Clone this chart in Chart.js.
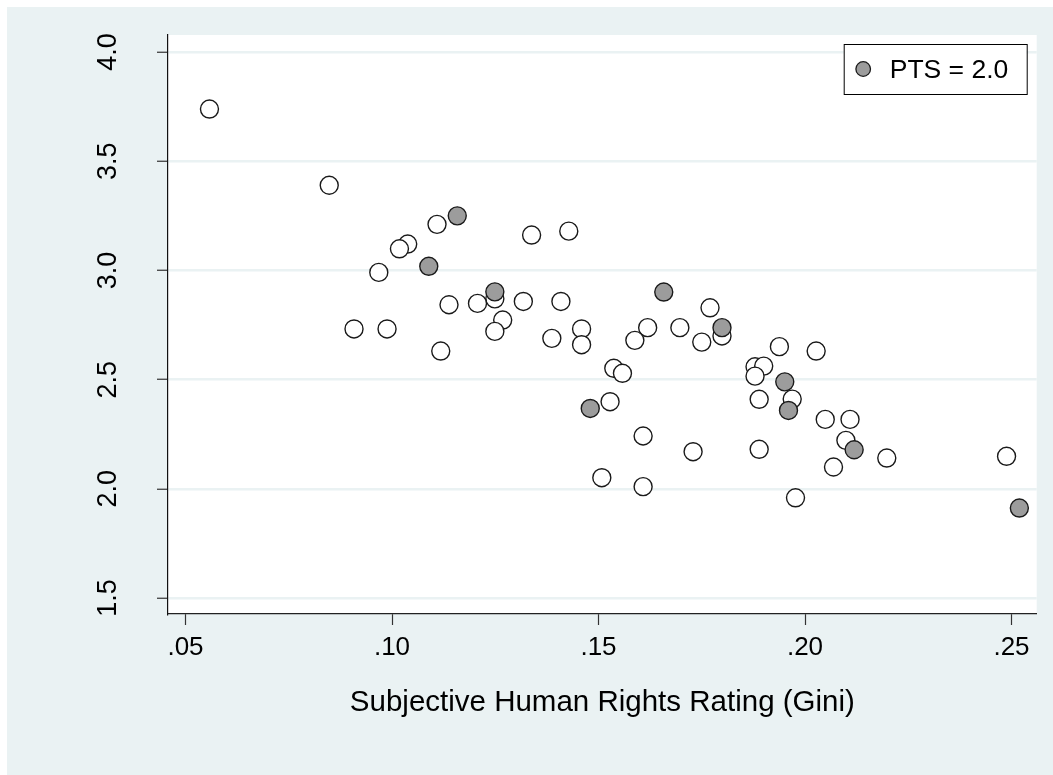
<!DOCTYPE html>
<html>
<head>
<meta charset="utf-8">
<script src="https://cdn.jsdelivr.net/npm/chart.js@4"></script>
<style>
  html, body { margin: 0; padding: 0; background: #ffffff; }
  #wrap { position: absolute; left: 7px; top: 7px; width: 1046px; height: 768px; }
</style>
</head>
<body>
<div id="wrap"><canvas id="chart" width="1046" height="768"></canvas></div>
<script>
// Gini rating (x) vs. outcome (y), PTS other than 2.0 (hollow markers)
const otherX = [0.0558, 0.0848, 0.1109, 0.1338, 0.1428, 0.1038, 0.1018, 0.0968, 0.1249, 0.1138,
                0.1207, 0.1318, 0.1409, 0.1268, 0.1249, 0.0908, 0.0988, 0.1387, 0.1459, 0.1459,
                0.1118, 0.1770, 0.1799, 0.1619, 0.1588, 0.1697, 0.1750, 0.1537, 0.1558, 0.1528,
                0.1608, 0.1729, 0.1508, 0.1608, 0.1938, 0.2027, 0.1879, 0.1900, 0.1879, 0.1969,
                0.1889, 0.2049, 0.2109, 0.2099, 0.1889, 0.2069, 0.2198, 0.1977, 0.2488];
const otherY = [3.739, 3.390, 3.211, 3.162, 3.180, 3.121, 3.099, 2.991, 2.870, 2.843,
                2.849, 2.858, 2.858, 2.773, 2.721, 2.732, 2.732, 2.689, 2.732, 2.660,
                2.631, 2.829, 2.700, 2.738, 2.680, 2.738, 2.672, 2.552, 2.529, 2.399,
                2.242, 2.170, 2.051, 2.010, 2.651, 2.631, 2.559, 2.562, 2.516, 2.411,
                2.410, 2.318, 2.318, 2.222, 2.181, 2.100, 2.141, 1.959, 2.149];

// PTS = 2.0 (grey markers)
const ptsX = [0.1158, 0.1089, 0.1249, 0.1658, 0.1799, 0.1480, 0.1951, 0.1960, 0.2119, 0.2519];
const ptsY = [3.250, 3.019, 2.902, 2.901, 2.738, 2.368, 2.490, 2.359, 2.179, 1.912];

const xTicks = [0.05, 0.10, 0.15, 0.20, 0.25];
const yTicks = [1.5, 2.0, 2.5, 3.0, 3.5, 4.0];

const xTitle = "Subjective Human Rights Rating (Gini)";
const legendLabel = "PTS = 2.0";

const BG = "#eaf2f3";
const FONT = "'Liberation Sans', Arial, sans-serif";

function toPoints(xs, ys) {
    return xs.map((x, i) => ({ x: x, y: ys[i] }));
}

// drop the extra room Chart.js keeps for overhanging tick labels
function noLabelPadding(scale) {
    scale.paddingTop = 0;
    scale.paddingBottom = 0;
    scale.paddingLeft = 0;
    scale.paddingRight = 0;
}

// paints the outer background and the white plot region
const backgroundPlugin = {
    id: "stataBackground",
    beforeDraw(chart) {
        const { ctx, chartArea } = chart;
        ctx.save();
        ctx.fillStyle = BG;
        ctx.fillRect(0, 0, chart.width, chart.height);
        ctx.fillStyle = "#ffffff";
        ctx.fillRect(chartArea.left, chartArea.top,
                     chartArea.right - chartArea.left, chartArea.bottom - chartArea.top);
        ctx.restore();
    }
};

// boxed legend inside the top right corner of the plot
const boxLegendPlugin = {
    id: "boxLegend",
    afterDraw(chart) {
        const { ctx, chartArea } = chart;
        const ds = chart.data.datasets[0];
        const right = chartArea.right - 10;
        const left = right - 183;
        const top = chartArea.top + 9;
        const h = 50;
        ctx.save();
        ctx.fillStyle = "#ffffff";
        ctx.fillRect(left, top, right - left, h);
        ctx.strokeStyle = "#000000";
        ctx.lineWidth = 1;
        ctx.strokeRect(left + 0.5, top + 0.5, right - left, h);
        ctx.beginPath();
        ctx.arc(left + 19.5, top + 25, 7.3, 0, Math.PI * 2);
        ctx.fillStyle = ds.backgroundColor;
        ctx.fill();
        ctx.lineWidth = 1.3;
        ctx.strokeStyle = ds.borderColor;
        ctx.stroke();
        ctx.fillStyle = "#000000";
        ctx.font = "26.5px " + FONT;
        ctx.textBaseline = "middle";
        ctx.textAlign = "left";
        ctx.fillText(ds.label, left + 46, top + 27);
        ctx.restore();
    }
};

new Chart(document.getElementById("chart"), {
    type: "scatter",
    data: {
        datasets: [
            {
                label: legendLabel,
                data: toPoints(ptsX, ptsY),
                backgroundColor: "#9c9c9c",
                borderColor: "#1a1a1a",
                borderWidth: 1.4,
                pointRadius: 9,
                order: 0
            },
            {
                label: "Other",
                data: toPoints(otherX, otherY),
                backgroundColor: "#ffffff",
                borderColor: "#1a1a1a",
                borderWidth: 1.4,
                pointRadius: 9,
                order: 1
            }
        ]
    },
    options: {
        responsive: false,
        animation: false,
        devicePixelRatio: 1,
        layout: { padding: { left: 0, top: 28, right: 16.3, bottom: 0 } },
        events: [],
        plugins: {
            legend: { display: false },
            tooltip: { enabled: false }
        },
        scales: {
            x: {
                type: "linear",
                min: 0.04576,
                max: 0.2561,
                afterBuildTicks: scale => { scale.ticks = xTicks.map(v => ({ value: v })); },
                afterFit: scale => { scale.height = 161; noLabelPadding(scale); },
                border: { display: true, color: "#222222", width: 1.2 },
                grid: {
                    drawOnChartArea: false,
                    drawTicks: true,
                    tickLength: 11,
                    tickColor: "#333333",
                    tickWidth: 1.2
                },
                ticks: {
                    padding: 7,
                    color: "#000000",
                    maxRotation: 0,
                    font: { family: FONT, size: 26 },
                    callback: v => v.toFixed(2).replace(/^0/, "")
                },
                title: {
                    display: true,
                    text: xTitle,
                    color: "#000000",
                    font: { family: FONT, size: 29.5 },
                    padding: { top: 0, bottom: 54 }
                }
            },
            y: {
                type: "linear",
                min: 1.427,
                max: 4.078,
                afterBuildTicks: scale => { scale.ticks = yTicks.map(v => ({ value: v })); },
                afterFit: scale => { scale.width = 161; noLabelPadding(scale); },
                border: { display: true, color: "#111111", width: 1.2 },
                grid: {
                    color: BG,
                    lineWidth: 2.5,
                    drawTicks: true,
                    tickLength: 11,
                    tickColor: "#333333",
                    tickWidth: 1.2
                },
                ticks: {
                    padding: 30,
                    color: "#000000",
                    minRotation: 90,
                    maxRotation: 90,
                    crossAlign: "center",
                    font: { family: FONT, size: 27 },
                    callback: v => v.toFixed(1)
                }
            }
        }
    },
    plugins: [backgroundPlugin, boxLegendPlugin]
});
</script>
</body>
</html>
